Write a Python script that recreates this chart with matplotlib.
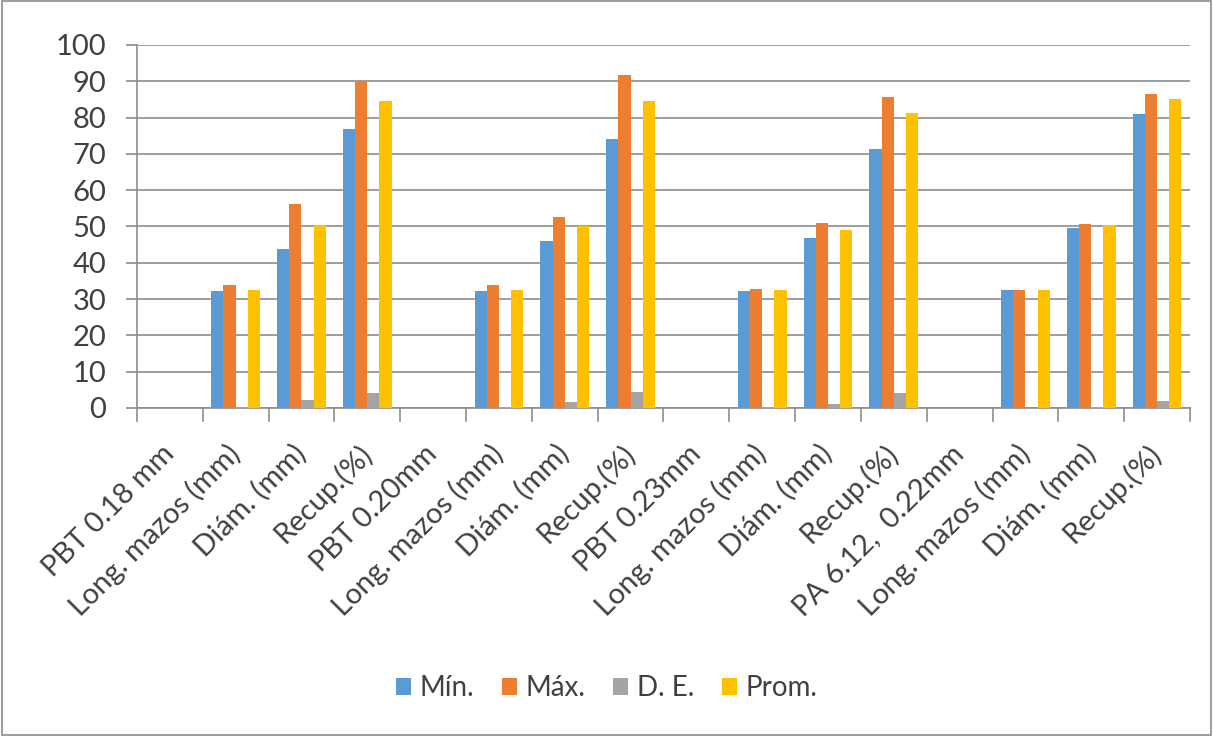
import matplotlib

matplotlib.use("Agg")
import matplotlib.pyplot as plt
import numpy as np
from matplotlib.patches import Rectangle

categories = [
    "PBT 0.18 mm", "Long. mazos (mm)", "Diám. (mm)", "Recup.(%)",
    "PBT 0.20mm", "Long. mazos (mm)", "Diám. (mm)", "Recup.(%)",
    "PBT 0.23mm", "Long. mazos (mm)", "Diám. (mm)", "Recup.(%)",
    "PA 6.12,  0.22mm", "Long. mazos (mm)", "Diám. (mm)", "Recup.(%)",
]
nan = np.nan
minimo = [nan, 32.2, 43.8, 76.8, nan, 32.2, 46.0, 74.0, nan, 32.2, 46.7, 71.3, nan, 32.5, 49.5, 81.0]
maximo = [nan, 33.8, 56.3, 90.0, nan, 33.8, 52.7, 91.8, nan, 32.8, 51.0, 85.6, nan, 32.5, 50.6, 86.5]
desv = [nan, 0.3, 2.3, 4.0, nan, 0.4, 1.7, 4.5, nan, 0.2, 1.2, 4.0, nan, 0.1, 0.3, 1.8]
promedio = [nan, 32.6, 50.4, 84.7, nan, 32.6, 50.0, 84.7, nan, 32.6, 49.0, 81.2, nan, 32.5, 50.3, 85.0]

series = [
    ("Mín.", minimo, "#5B9BD5"),
    ("Máx.", maximo, "#ED7D31"),
    ("D. E.", desv, "#A5A5A5"),
    ("Prom.", promedio, "#FFC000"),
]

GRID = "#8c8c8c"
TEXT = "#404040"

plt.rcParams["font.family"] = ["Lato", "DejaVu Sans"]

fig = plt.figure(figsize=(12.13, 7.36), dpi=100)
ax = fig.add_axes([0.1129, 0.4457, 0.8681, 0.4932])

x = np.arange(len(categories))
width = 0.185
for i, (label, values, color) in enumerate(series):
    ax.bar(x + (i - 1.5) * width, values, width, color=color, label=label, zorder=3)

ax.set_ylim(0, 100)
ax.set_xlim(-0.5, len(categories) - 0.5)
ax.set_yticks(range(0, 101, 10))
ax.tick_params(axis="y", length=8, width=1.2, color=GRID, labelsize=21, pad=14, labelcolor=TEXT)
ax.yaxis.grid(True, color=GRID, linewidth=1.2, zorder=0)

# category labels at centres, tick marks at the boundaries
ax.set_xticks(x)
ax.set_xticklabels(categories, rotation=45, ha="right", va="center",
                   rotation_mode="anchor", fontsize=21, color=TEXT)
ax.tick_params(axis="x", length=0, pad=30)
for b in np.arange(-0.5, len(categories), 1.0):
    ax.plot([b, b], [0, -3.5], color=GRID, linewidth=1.2, clip_on=False)

for side in ("top", "right"):
    ax.spines[side].set_visible(False)
for side in ("bottom", "left"):
    ax.spines[side].set_color(GRID)
    ax.spines[side].set_linewidth(1.2)

fig.legend(loc="center", bbox_to_anchor=(0.5, 0.065), ncol=4, frameon=False,
           fontsize=20, handlelength=0.55, handleheight=0.55, handletextpad=0.3,
           columnspacing=1.0, labelcolor=TEXT)

fig.patches.append(Rectangle((0.002, 0.002), 0.996, 0.996, transform=fig.transFigure,
                             fill=False, edgecolor=GRID, linewidth=1.2))

fig.savefig("out.png", dpi=100)
